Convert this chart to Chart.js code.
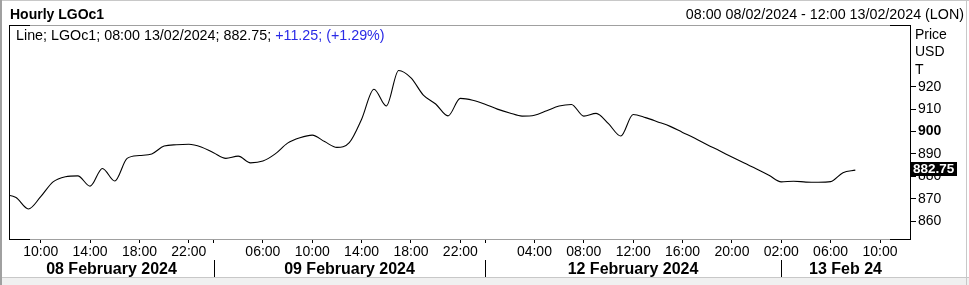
<!DOCTYPE html>
<html>
<head>
<meta charset="utf-8">
<script src="https://cdn.jsdelivr.net/npm/chart.js@4"></script>
<style>
  html,body{margin:0;padding:0;background:#fff;}
  #wrap{position:relative;width:969px;height:285px;overflow:hidden;font-family:"Liberation Sans",Arial,sans-serif;color:#000;}
  canvas{position:absolute;left:0;top:0;}
  .t{position:absolute;white-space:nowrap;font-size:14px;line-height:16px;}
</style>
</head>
<body>
<div id="wrap">
  <canvas id="c" width="969" height="285"></canvas>
  <div class="t" style="left:10px;top:6px;font-weight:bold;">Hourly LGOc1</div>
  <div class="t" style="right:5px;top:5.5px;font-size:14.3px;">08:00 08/02/2024 - 12:00 13/02/2024 (LON)</div>
  <div class="t" style="left:16px;top:26.5px;font-size:14.3px;">Line; LGOc1; 08:00 13/02/2024; 882.75; <span style="color:#2a2ae6">+11.25; (+1.29%)</span></div>
  <div class="t" style="left:915px;top:25.5px;">Price</div>
  <div class="t" style="left:915px;top:43.3px;">USD</div>
  <div class="t" style="left:915px;top:61.3px;">T</div>
</div>
<script>
// hourly bar values, index -1 = 07:00 08/02 (clipped), index 68 = 08:00 13/02
const startIndex = -1;
const values = [
  872.0, 870.5, 865.4, 870.9, 877.5, 879.8, 880.2, 875.6, 883.5, 877.9,
  888.0, 889.3, 890.0, 893.5, 894.1, 894.3, 893.1, 890.5, 888.0, 889.0,
  886.0, 886.8, 890.0, 894.8, 897.2, 898.4, 895.5, 892.9, 895.0, 905.5,
  918.9, 911.4, 927.3, 924.0, 916.3, 912.3, 907.0, 914.8, 914.0, 912.2,
  910.0, 908.3, 906.9, 907.3, 909.3, 911.4, 912.1, 906.9, 908.1, 903.5,
  898.0, 907.6, 906.2, 904.3, 902.3, 899.6, 897.0, 894.1, 891.4, 888.6,
  885.9, 883.3, 880.5, 877.5, 877.8, 877.4, 877.3, 877.6, 881.6, 882.75
];
const lastValue = 882.75;
// x ticks (bar index) and their labels
const tickIdx    = [2, 6, 10, 14, 16, 20, 24, 28, 32, 36, 38, 42, 46, 50, 54, 58, 62, 66, 70];
const tickLabels = ['10:00','14:00','18:00','22:00','','06:00','10:00','14:00','18:00','22:00','','04:00','08:00','12:00','16:00','20:00','02:00','06:00','10:00'];
// day separators (first bar of each new day) and day labels
const daySeparators = [16, 38, 62];
const dayLabels = ['08 February 2024', '09 February 2024', '12 February 2024', '13 Feb 24'];
const yTicks = [860, 870, 880, 890, 900, 910, 920];

const FONT = '"Liberation Sans", Arial, sans-serif';
Chart.defaults.font.family = FONT;
Chart.defaults.color = '#000';

const points = values.map((v, i) => ({x: startIndex + i, y: v}));
const tickLabelMap = {};
tickIdx.forEach((t, i) => tickLabelMap[t] = tickLabels[i]);

const framePlugin = {
  id: 'frame',
  beforeDraw(chart) {
    const ctx = chart.ctx;
    ctx.save();
    // window chrome
    ctx.fillStyle = '#f0f0f0';
    ctx.fillRect(0, 278, 969, 7);
    ctx.fillStyle = '#c8c8c8';
    ctx.fillRect(0, 277, 969, 1);
    ctx.fillRect(0, 0, 969, 1);
    ctx.fillRect(966, 0, 1, 285);
    ctx.fillStyle = '#a0a0a0';
    ctx.fillRect(0, 0, 2, 285);
    ctx.restore();
  },
  afterDraw(chart) {
    const ctx = chart.ctx;
    const a = chart.chartArea;
    const xs = chart.scales.x, ys = chart.scales.y;
    ctx.save();
    const L = Math.round(a.left), R = Math.round(a.right), T = Math.round(a.top), B = Math.round(a.bottom);
    // gray horizontal frame
    ctx.fillStyle = '#a0a0a0';
    ctx.fillRect(L, T, R - L + 1, 1);
    ctx.fillRect(L, B, R - L + 1, 1);
    // black corners / sides
    ctx.fillStyle = '#000';
    ctx.fillRect(L, T, 21, 1);
    ctx.fillRect(L, B, 21, 1);
    ctx.fillRect(R - 20, T, 21, 1);
    ctx.fillRect(R - 20, B, 21, 1);
    ctx.fillRect(L, T, 1, B - T + 1);
    ctx.fillRect(R, T, 1, B - T + 1);
    // day separators
    const seps = daySeparators.map(d => Math.round(xs.getPixelForValue(d)));
    seps.forEach(px => ctx.fillRect(px, 260, 1, 17));
    // day labels
    const bounds = [L].concat(seps, [R]);
    ctx.font = 'bold 16px ' + FONT;
    ctx.textAlign = 'center';
    ctx.textBaseline = 'alphabetic';
    dayLabels.forEach((lab, i) => {
      ctx.fillText(lab, (bounds[i] + bounds[i + 1]) / 2, 274);
    });
    // last price tag
    const py = ys.getPixelForValue(lastValue);
    ctx.fillStyle = '#000';
    ctx.fillRect(R, Math.round(py - 8.5), 47, 14);
    ctx.fillStyle = '#fff';
    ctx.font = 'bold 13.5px ' + FONT;
    ctx.textAlign = 'left';
    ctx.fillText(lastValue.toFixed(2), R + 3, py + 3.3);
    ctx.restore();
  }
};

new Chart(document.getElementById('c'), {
  type: 'line',
  data: {
    datasets: [{
      data: points,
      borderColor: '#000',
      borderWidth: 1.1,
      pointRadius: 0,
      cubicInterpolationMode: 'monotone',
      fill: false
    }]
  },
  options: {
    responsive: false,
    animation: false,
    devicePixelRatio: 1,
    layout: {padding: {left: 9, top: 25, right: 0, bottom: 0}},
    plugins: {legend: {display: false}, tooltip: {enabled: false}},
    scales: {
      x: {
        type: 'linear',
        min: -0.57,
        max: 72.43,
        afterFit(s) { s.height = 46; },
        afterBuildTicks(s) { s.ticks = tickIdx.map(v => ({value: v})); },
        border: {display: false},
        grid: {display: true, drawOnChartArea: false, drawTicks: true, tickLength: 4, color: '#000', lineWidth: 1},
        ticks: {
          autoSkip: false,
          maxRotation: 0,
          padding: 1,
          font: {size: 14},
          color: '#000',
          callback: (v) => tickLabelMap[v] !== undefined ? tickLabelMap[v] : ''
        }
      },
      y: {
        position: 'right',
        min: 851.97,
        max: 947.6,
        afterFit(s) { s.width = 59; },
        afterBuildTicks(s) { s.ticks = yTicks.map(v => ({value: v})); },
        border: {display: false},
        grid: {display: true, drawOnChartArea: false, drawTicks: true, tickLength: 6, color: '#000', lineWidth: 1},
        ticks: {
          padding: 2,
          color: '#000',
          font: (c) => (c.tick && c.tick.value === 900) ? {size: 14, weight: 'bold'} : {size: 14},
          callback: (v) => String(v)
        }
      }
    }
  },
  plugins: [framePlugin]
});
</script>
</body>
</html>
